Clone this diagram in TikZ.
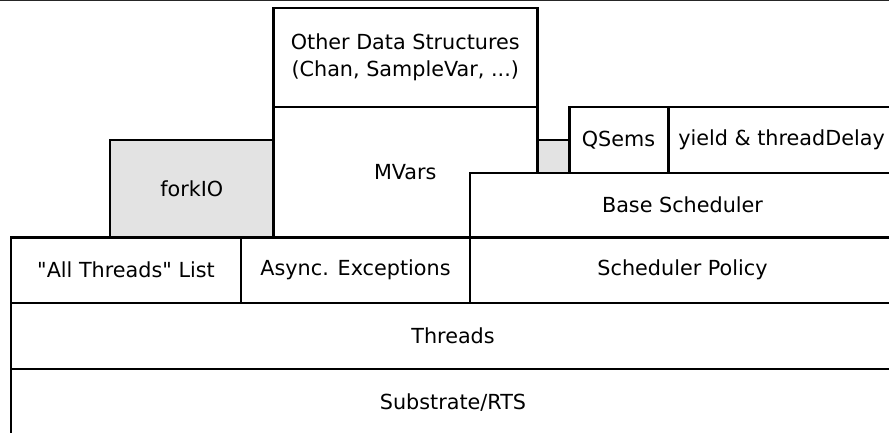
\documentclass[tikz,border=0pt]{standalone}
\usepackage{fontspec}
\setmainfont{DejaVu Sans}

\begin{document}
\begin{tikzpicture}[
        box/.style={draw, line width=1.7pt, fill=white},
        busy/.style={draw, line width=1.7pt, fill=black!11},
        font=\fontsize{11.8}{15.4}\selectfont
    ]
        \clip (0,0) rectangle (17.78,8.66);
        \draw[line width=0.8pt, black!85] (0,8.65) -- (17.78,8.65);

        % forkIO and the grey strip behind
        \draw[busy] (2.2,5.86) rectangle (5.47,3.91) node[pos=.5] (forkio) {forkIO};
        \draw[busy] (10.74,5.86) rectangle (11.38,5.2);

        % MVars and what is built on them
        \draw[box] (5.47,6.52) rectangle (10.74,3.91) node[pos=.5] (mvars) {MVars};
        \draw[box] (5.47,8.5) rectangle (10.74,6.52) node[pos=.5, align=center] (other) {Other Data Structures\\(Chan, SampleVar, ...)};

        % scheduler
        \draw[box] (11.38,6.52) rectangle (13.36,5.2) node[pos=.5] (qsems) {QSems};
        \draw[box] (13.36,6.52) rectangle (17.9,5.2) node[pos=.5] (yield) {yield \& threadDelay};
        \draw[box] (9.4,5.2) rectangle (17.9,3.91) node[pos=.5] (base) {Base Scheduler};

        % lower layers
        \draw[box] (0.22,3.91) rectangle (4.82,2.6) node[pos=.5] (allthreads) {\textquotedbl All Threads\textquotedbl{} List};
        \draw[box] (4.82,3.91) rectangle (9.4,2.6) node[pos=.5] (async) {Async. Exceptions};
        \draw[box] (9.4,3.91) rectangle (17.9,2.6) node[pos=.5] (policy) {Scheduler Policy};
        \draw[box] (0.22,2.6) rectangle (17.9,1.28) node[pos=.5] (threads) {Threads};
        \draw[box] (0.22,1.28) rectangle (17.9,-0.06) node[pos=.5] (rts) {Substrate/RTS};
    \end{tikzpicture}
\end{document}
